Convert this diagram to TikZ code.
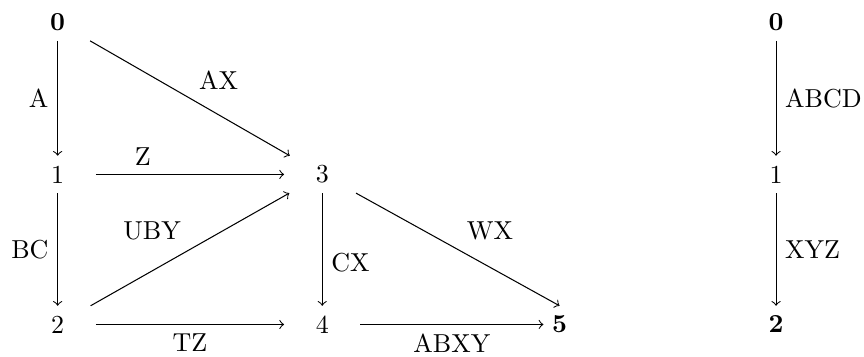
\documentclass[tikz,border=0pt]{standalone}
\usepackage{tikz}

\begin{document}
\begin{tikzpicture}[>=to,
    vtx/.style={minimum width=29pt, minimum height=14pt, inner sep=0pt}]
    \useasboundingbox (0,0) rectangle (11.69,4.82);

    \node[vtx] (n0) at (0.78,4.52) {\textbf{0}};
    \node[vtx] (n1) at (0.78,2.46) {1};
    \node[vtx] (n2) at (0.78,0.43) {2};
    \node[vtx] (n3) at (4.36,2.46) {3};
    \node[vtx] (n4) at (4.36,0.43) {4};
    \node[vtx, minimum width=12pt] (n5) at (7.57,0.43) {\textbf{5}};

    \node[vtx] (m0) at (10.5,4.52) {\textbf{0}};
    \node[vtx] (m1) at (10.5,2.46) {1};
    \node[vtx] (m2) at (10.5,0.43) {\textbf{2}};

    \draw[->] (n0) -- node[left] {A} (n1);
    \draw[->] (n0) -- node[above right] {AX} (n3);
    \draw[->] (n1) -- node[above, pos=0.25] {Z} (n3);
    \draw[->] (n1) -- node[left] {BC} (n2);
    \draw[->] (n2) -- node[above left] {UBY} (n3);
    \draw[->] (n2) -- node[below] {TZ} (n4);
    \draw[->] (n3) -- node[right, pos=0.62] {CX} (n4);
    \draw[->] (n3) -- node[above right] {WX} (n5.north);
    \draw[->] (n4) -- node[below] {ABXY} (n5);

    \draw[->] (m0) -- node[right] {ABCD} (m1);
    \draw[->] (m1) -- node[right] {XYZ} (m2);
\end{tikzpicture}
\end{document}
